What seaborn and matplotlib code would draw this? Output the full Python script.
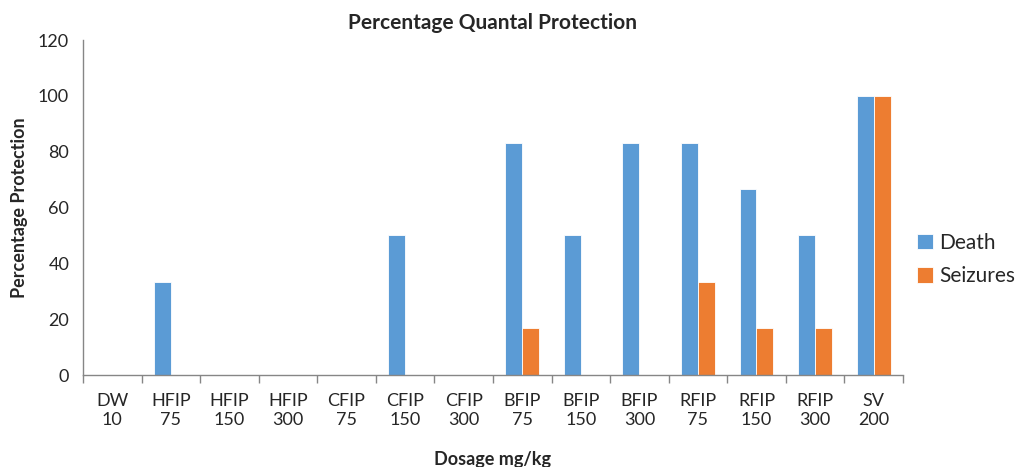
"""Percentage quantal protection bar chart."""
import matplotlib

matplotlib.use("Agg")
import matplotlib.pyplot as plt
import pandas as pd
import seaborn as sns

groups = ["DW\n10", "HFIP\n75", "HFIP\n150", "HFIP\n300", "CFIP\n75", "CFIP\n150", "CFIP\n300",
          "BFIP\n75", "BFIP\n150", "BFIP\n300", "RFIP\n75", "RFIP\n150", "RFIP\n300", "SV\n200"]
death = [0, 33.3, 0, 0, 0, 50, 0, 83.3, 50, 83.3, 83.3, 66.7, 50, 100]
seizures = [0, 0, 0, 0, 0, 0, 0, 16.7, 0, 0, 33.3, 16.7, 16.7, 100]

df = pd.DataFrame({"group": groups * 2,
                   "value": death + seizures,
                   "series": ["Death"] * len(groups) + ["Seizures"] * len(groups)})

sns.set_theme(style="white")
plt.rcParams["font.family"] = ["Lato", "DejaVu Sans"]
axis_grey = "#868686"

fig = plt.figure(figsize=(10.3, 4.67), dpi=100)
ax = fig.add_axes([0.0806, 0.197, 0.796, 0.717])
sns.barplot(data=df, x="group", y="value", hue="series", order=groups,
            palette=["#5B9BD5", "#ED7D31"], saturation=1, width=0.58, edgecolor="white",
            linewidth=0.6, ax=ax)

ax.set_ylim(0, 120)
ax.set_yticks(range(0, 121, 20))
ax.set_xlim(-0.5, len(groups) - 0.5)
ax.set_xticks(range(len(groups)))
ax.set_xticklabels(groups, fontsize=13, linespacing=1.25)
ax.tick_params(axis="x", length=0, pad=13)
ax.set_xticks([i - 0.5 for i in range(len(groups) + 1)], minor=True)
ax.tick_params(axis="x", which="minor", length=6, width=1, color=axis_grey, direction="out")
ax.tick_params(axis="y", length=6, width=1, color=axis_grey, direction="out", labelsize=13, pad=4)
ax.tick_params(axis="x", which="major", bottom=False)
ax.xaxis.set_tick_params(which="minor", bottom=True)

for side in ("top", "right"):
    ax.spines[side].set_visible(False)
for side in ("left", "bottom"):
    ax.spines[side].set_color(axis_grey)
    ax.spines[side].set_linewidth(1)

ax.set_title("Percentage Quantal Protection", fontsize=15, fontweight="bold", pad=8)
ax.set_xlabel("Dosage mg/kg", fontsize=13, fontweight="bold", labelpad=16)
ax.set_ylabel("Percentage Protection", fontsize=13, fontweight="bold", labelpad=7)

ax.legend(loc="center left", bbox_to_anchor=(1.0, 0.345), borderaxespad=0.3, frameon=False,
          fontsize=15, handlelength=0.75, handleheight=0.75, handletextpad=0.3, labelspacing=0.65)

fig.savefig("out.png", dpi=100)
plt.close(fig)
